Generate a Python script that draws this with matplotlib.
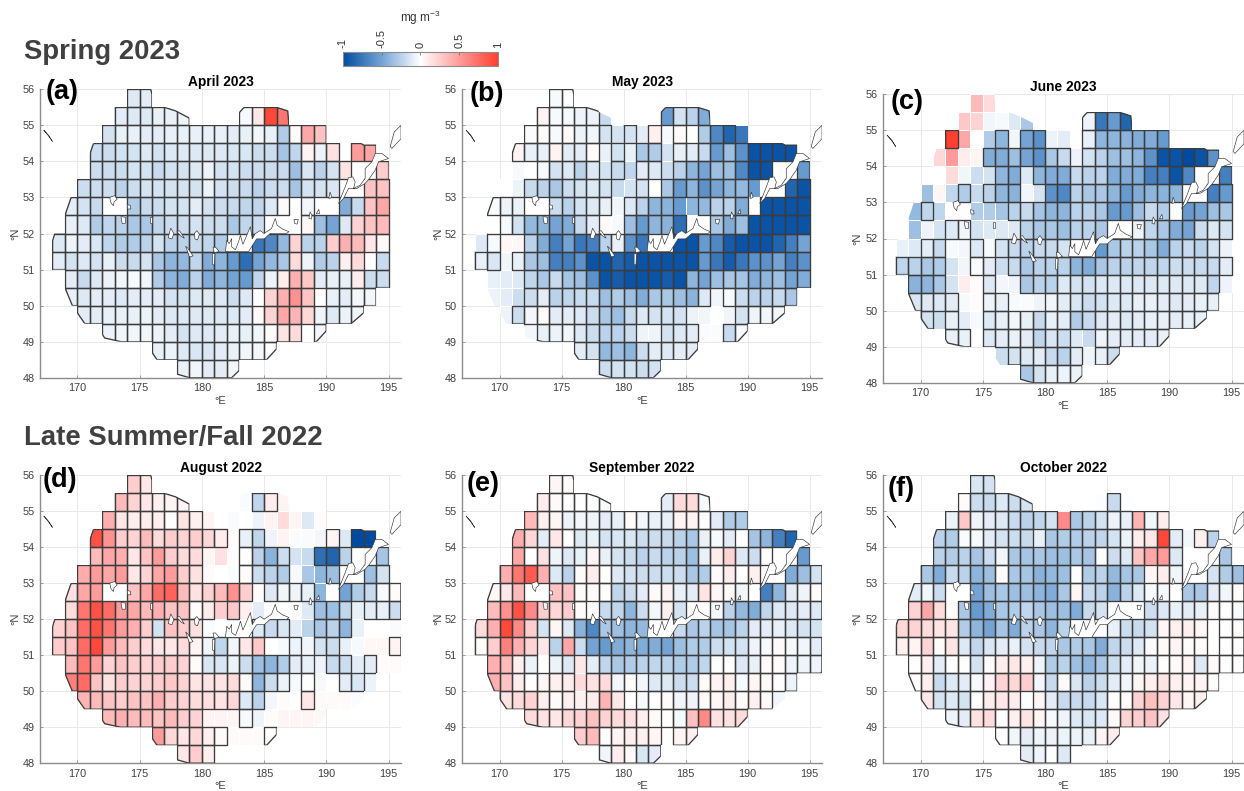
import numpy as np
import matplotlib
matplotlib.use("Agg")
import matplotlib.pyplot as plt
from matplotlib.collections import PatchCollection
from matplotlib.colors import LinearSegmentedColormap
from matplotlib.cm import ScalarMappable
from matplotlib.colors import Normalize
from matplotlib.patches import Rectangle, PathPatch
from matplotlib.path import Path

plt.rcParams["font.family"] = ["Liberation Sans", "DejaVu Sans"]
plt.rcParams["mathtext.fontset"] = "custom"
plt.rcParams["mathtext.rm"] = "Liberation Sans"
plt.rcParams["axes.unicode_minus"] = False

n = float("nan")

# rows run north to south, each row starts at its own longitude
row_lat = [55.5, 55, 54.5, 54, 53.5, 53, 52.5, 52, 51.5, 51, 50.5, 50, 49.5, 49, 48.5, 48]
row_lon = [174, 173, 172, 171, 171, 170, 169, 169, 168, 168, 169, 169, 170, 172, 176, 178]

# anomalies in hundredths of mg m-3
apr_2023 = [
    [-12, -10],
    [-10, -12, -12, -8, -8, -6, n, n, n, n, -3, 12, 95, 70],
    [-15, -8, -8, -10, -10, -8, -8, -8, -8, -8, -10, -8, -5, -8, -28, 3, 45, 30],
    [-18, -18, -15, -15, -12, -15, -12, -12, -12, -12, -12, -14, -14, -18, -18, -32, -22, 6, -7, 15, n, 50, 45],
    [-18, -18, -18, -15, -15, -20, -15, -15, -12, -7, -15, -15, -18, -18, -18, -20, -35, -14, -25, -15, 14, n, n, 25],
    [-18, -18, -18, -25, -18, -15, -15, -15, -15, -15, -7, -15, -18, -20, -25, -18, -18, -32, -15, -15, -14, n, n, 30, 30, n],
    [-10, -15, -20, n, n, -28, -20, -18, -15, -15, -10, -15, -18, -20, -22, -22, -12, 3, n, -4, n, n, -45, -20, 30, 45, n],
    [-8, -12, -28, -22, -25, -30, -30, -22, -18, -18, -15, -18, -18, -30, -22, -18, n, n, n, 4, -35, -50, -12, 22, 30, 35, n],
    [-12, -6, -10, -14, -22, -28, -28, -25, -15, -25, -25, -20, -22, -28, n, n, -75, -65, -38, 22, -25, -25, 25, 40, 35, 12, 3, n],
    [-10, -15, -12, -15, -8, -18, -20, -15, -30, -40, -38, -22, -45, -40, -55, -80, -50, -38, -30, 18, -7, -28, -25, 8, 18, n, -20, n],
    [-10, -20, -12, -7, -5, -3, -5, -28, -40, -45, -25, -45, -40, -50, -55, -22, -7, 10, 40, 28, -10, -8, -8, 10, -18, -18, n],
    [-8, -12, -10, -10, -12, -10, -10, -10, -15, -15, -12, -12, -12, -18, -12, n, 22, 40, 55, 30, n, -8, -10, -4, -4],
    [-10, -10, -8, -8, -8, -7, -10, -12, -12, -12, -12, -12, -12, -10, 3, 22, 45, 38, 20, -6, -12, -7, -5],
    [-7, -5, -5, -5, -7, -10, -15, -12, -12, -10, -8, -8, -5, 3, 14, 18, n, -4],
    [-8, -7, -12, -14, -14, -10, -8, -5, -4, 0],
    [-8, -5, -10, -10, -5],
]
may_2023 = [
    [-3, 0],
    [6, -3, -3, -6, -7, -20, n, n, n, n, -55, -15, -25, -45],
    [-2, 3, -3, 2, -7, -5, -15, -15, -15, -10, 8, -3, 2, n, -28, -65, -85, -75],
    [6, -8, -8, 6, -10, -10, 2, -8, -15, -8, -30, -28, -15, -8, -10, -20, -55, -35, -60, -95, -95, -95, -95],
    [-3, n, -3, -15, -12, -25, -12, -15, -20, -22, -10, -12, -18, -25, -40, -50, -35, -35, -65, -95, -95, n, n, -55],
    [n, -7, -20, -25, -30, -18, -15, -12, -15, -20, -15, -15, n, -30, -55, -40, -60, -50, -40, -38, -55, n, n, -85, -95, n],
    [-2, -7, -7, n, n, -18, -25, -15, -12, -8, -5, -12, -25, -40, -42, -55, -40, -38, -25, -25, -45, n, -95, -95, -95, -95, n],
    [n, -3, -15, -38, -40, -50, -45, -20, -10, 3, -3, -35, -55, -40, -42, -80, n, n, -30, -45, -35, -95, -95, -95, -95, -95, n],
    [-12, -3, 4, 4, -25, -45, -70, -50, -75, -70, -25, -8, -60, -75, n, n, -95, -95, -55, -65, -90, -95, -95, -95, -85, -70, -50, n],
    [-8, -14, -5, -8, -30, -35, -70, -70, -60, -95, -95, -85, -90, -95, -95, -95, -95, -95, -55, -75, -90, -75, -60, -60, -50, -70, -60, n],
    [-8, -10, -12, -22, -30, -20, -32, -35, -60, -95, -90, -95, -95, -95, -90, -95, -40, -50, -35, -30, -32, -45, -40, -35, -50, -45, n],
    [-7, -10, -18, -18, -10, -25, -22, -20, -20, -35, -28, -35, -45, -30, -30, -35, -42, -12, -5, -3, -18, -25, -25, -20, -30],
    [-7, -18, -4, 2, -10, -10, -12, -18, -30, -35, -20, -12, -15, -15, -15, -7, -5, n, -5, -15, -6, -5, -5],
    [-4, -8, -7, -5, -12, -18, -25, -25, -18, -6, -6, -15, -12, -10, -2, -2, -20, -3],
    [-10, -15, -38, -35, -40, -18, -10, -12, -10, -10],
    [-18, -15, -15, -18, -15],
]
jun_2023 = [
    [35, 18],
    [28, 22, -5, -3, -12, -30, n, n, n, n, -6, -75, -55, -85],
    [100, 45, n, -28, -40, -5, -50, -60, -7, -10, n, -8, -40, -40, -42, -45, -45, -55],
    [20, 50, 10, 5, -45, -45, -35, -50, -60, -30, -20, -6, -15, -25, -35, -35, -40, -60, -95, -95, -100, -95, -60],
    [n, 18, -5, -18, -15, -40, -45, -12, -40, -45, -45, -20, -25, -25, -45, -45, -45, -70, -70, -95, -65, n, n, -70],
    [-35, 5, -22, -28, -20, -25, -40, -42, -5, -15, -60, -65, -25, -30, -30, -40, -55, -45, -40, -42, -40, n, n, -70, -55, n],
    [-38, -22, -22, n, n, -28, -28, -32, -25, -20, -32, -40, -40, -25, -25, -30, -55, -55, -35, -20, -28, n, -55, -50, -35, -30, n],
    [-35, -6, -15, -12, -5, -15, -12, -12, -12, -25, -30, -30, -35, -25, -25, -30, n, n, -6, -22, -30, -45, -50, -18, -12, -15, n],
    [-8, -12, -10, -20, -3, -4, -12, -3, -15, -20, -25, -20, -20, -15, n, n, -55, -30, -25, -25, -30, -45, -25, -20, -25, -15, -7, n],
    [-22, -25, -30, -28, -15, -5, -2, -10, -18, -20, -30, -25, -25, -25, -40, -45, -30, -25, -25, -22, -22, -22, -18, -18, -20, -20, -10, n],
    [-42, -40, -30, -15, 10, 2, -12, -4, -6, -30, -25, -25, -12, -15, -15, -12, -12, -12, -12, -12, -12, -12, -12, -12, -22, -6, n],
    [-14, -12, -12, -10, -3, 2, -6, -8, -3, -2, -6, -5, -10, -14, -18, -15, -12, -12, -8, -8, -10, -12, -10, -8, -8],
    [-15, -18, -8, -10, -3, -12, -8, -5, -8, -20, -8, -10, -28, -20, -12, -10, -12, -10, -8, -8, -10, -8, -8],
    [-8, -8, n, -12, -10, -8, -10, -22, -14, -18, -12, -20, -6, -10, -10, -10, -10, -8],
    [-18, -15, -12, -10, -20, -25, -10, -6, -8, -18],
    [-30, -15, -8, -7, -7],
]
aug_2022 = [
    [25, 12],
    [35, 22, 12, 8, 6, 5, n, n, n, n, -2, -22, 10, 6],
    [40, 12, 10, 10, 8, 0, 14, 8, 6, n, -2, n, -6, 6, 18, 5, -12, 2],
    [90, 55, 25, 22, 35, 18, 25, 22, 25, 20, 10, 2, -8, -22, -6, 6, -2, -2, -4, 5, -12, -100, -100],
    [35, 45, 40, 12, 30, 50, 25, 18, 18, 5, 15, 2, 0, -25, -42, -18, -15, -20, -80, -85, -25, n, n, -32],
    [42, 50, 45, 50, 12, 22, 45, 50, 25, 15, 3, n, -2, 2, -18, -25, -28, -3, -30, -40, -35, n, n, -35, -15, n],
    [15, 45, 50, n, n, 30, 45, 75, 80, 35, 15, 22, 35, 55, 25, 2, -12, -5, -6, -8, -40, n, -50, -28, -20, -3, 2],
    [18, 70, 90, 75, 50, 45, 35, 40, 30, 30, 2, 10, 25, 28, 8, -10, n, n, n, -12, -35, -35, -22, -8, -10, -8, -18],
    [22, 30, 75, 90, 70, 50, 40, 25, -15, 30, 25, 15, -2, n, n, n, -12, -20, -14, -10, -25, -30, -25, -40, -8, n, n, -2],
    [25, 30, 75, 95, 50, 35, 25, 18, 12, 12, 18, 5, -5, -22, -5, 12, 28, n, -3, -7, -5, -15, -18, -8, -3, 4, 4, 6],
    [35, 70, 50, 22, 30, 25, 22, 25, 25, 22, 2, -14, -14, -7, -18, -35, -40, -28, -10, -8, -6, -20, -18, -10, -10, 2, 2],
    [65, 75, 30, 15, 25, 22, 22, 25, 28, 22, 14, 14, 14, 18, 3, -40, -18, -7, -3, 0, -3, n, -10, -14, -7],
    [38, 35, 30, 25, 30, 30, 40, 25, 22, 18, 16, 14, 20, -12, -25, -4, 2, n, 12, 3, 3, 3, -2],
    [35, 40, 35, 35, 30, 35, 25, 22, 6, 6, 5, -3, -6, 2, 5, 5, 5, 4],
    [50, 20, 12, 20, 8, 3, 3, 3, 3, 0],
    [12, 25, 8, n, n],
]
sep_2022 = [
    [5, 2],
    [10, 3, 0, 0, 0, -3, n, n, n, n, -10, 18, 18, -3],
    [35, 8, 5, -7, -4, -6, -10, -8, 2, -4, -8, -8, 6, 6, 0, -10, -28, -28],
    [42, 20, -10, 12, 0, -12, -8, -15, -14, -14, -18, -18, -20, -25, -30, -8, -3, -10, n, -32, -40, -70, -85],
    [45, 0, 15, -6, -12, -8, 5, -8, -15, -18, -25, -20, -25, -25, -35, -8, 10, 22, -12, -18, 0, n, n, -55],
    [40, 70, 85, 40, -12, -25, 3, 10, 0, -12, -15, -18, -18, -18, -18, -30, -28, 3, 10, 0, 8, n, n, -45, -35, -15],
    [4, 12, 35, n, n, 30, 30, 3, 2, 0, -22, -18, -10, 3, 6, -8, -10, 14, 4, 2, -5, n, -70, -40, -10, -6, 2],
    [35, 55, 90, 60, 25, 20, 25, 3, n, -20, -22, -40, -18, -4, 8, -15, n, n, -3, -25, -38, -45, -22, -12, -12, -10, -12],
    [18, 40, 95, 60, 25, -15, 5, -12, -42, -65, -30, -35, -40, -38, n, n, -20, -30, -25, -32, -32, -25, -10, -10, -8, -12, -15, -15],
    [2, 25, 65, 40, 22, 12, -25, 45, -18, -50, -55, -45, -40, -45, -45, -50, -35, -28, -28, -18, -15, -15, -6, -3, 2, -3, -5, -10],
    [40, 35, 8, -7, n, -7, -12, 12, -10, -22, -30, -28, -25, -22, -25, -28, -28, -22, 0, 0, -12, -8, 2, 2, -6, -6, -6],
    [40, 30, 10, 1, 5, 8, 10, 18, 15, 18, -4, 2, -4, -12, -12, -18, -18, 2, 6, 8, -3, 5, 3, 0, -7],
    [14, 18, 22, 8, 3, 8, 8, 10, 38, 12, n, -3, 0, 2, -5, -6, 3, 4, 10, 3, 8, 3, -5],
    [18, 15, 12, 20, 22, 32, 22, 18, 15, 8, 3, 0, -3, 32, 60, 15, 15, 18],
    [25, 35, 2, 6, 8, 8, 5, n, 6, 8],
    [-5, 10, 3, -14, -10],
]
oct_2022 = [
    [-14, -15],
    [2, -18, -20, -12, -18, -15, n, n, n, n, n, -1, -20, -1],
    [-7, 28, -6, -10, -12, -20, -25, -22, -15, 60, -30, -25, -15, -7, -8, 38, -5, 10],
    [-25, -28, -2, -3, -10, -15, -18, -20, -8, -30, -28, -28, -25, -22, -15, -7, 10, 12, 95, -10, -4, 8, -25],
    [-25, -28, -25, -32, -18, -5, -30, -32, -30, -35, -35, -30, -32, -1, -18, -12, 30, 45, 50, -12, n, n, n, -30],
    [-30, -45, -20, -25, -40, -35, 2, -30, -32, -42, -38, -35, -1, -28, -25, -38, -32, -30, 5, 10, -5, n, n, -15, -28, -35],
    [-10, -5, -18, n, n, -50, -35, -30, -35, -35, -40, -45, -30, 5, -20, -25, -42, -25, -12, -3, -3, n, -30, -30, -10, -5, 2],
    [22, 45, 18, 2, -30, -55, -45, -30, -28, -22, -30, -35, -35, -45, -20, -15, n, n, n, -18, -12, -8, -10, -8, 2, 0, -2],
    [20, 22, 18, 14, 14, -28, -40, -50, -32, -45, -25, -30, -40, -25, n, n, n, -8, -18, -20, -15, 5, 8, 8, 4, n, 1, 2],
    [8, 6, 22, 2, 14, -12, -22, -14, -10, -8, -15, -20, -22, -30, -28, -30, -45, -22, -18, -12, -2, 3, 6, 2, 2, n, 0, 1],
    [1, 8, -10, 1, 0, -15, 2, 10, 12, 8, -6, -28, -25, -35, -40, -30, -18, -10, -5, -7, 1, 3, 5, -12, 3, 0, 1],
    [1, 10, -20, -12, -10, -3, 6, 22, 20, 25, -4, -20, 3, -14, -25, -18, -10, -5, 5, 8, 14, 8, 6, 6, 2],
    [12, -15, -12, -15, 0, 10, 12, 10, n, 5, -10, -20, -20, -20, -14, 0, 2, 22, 32, 22, 12, 5, 8],
    [-6, -10, 15, 18, 0, 8, 14, 5, -3, -6, -12, -14, -12, 3, 22, 25, 30, 15],
    [0, -5, -10, -6, -7, -7, -7, -8, 6, 10],
    [-10, -6, 0, -12, n],
]

# cells without a significance outline, by row latitude
apr_plain = {}
may_plain = {55: [178], 54.5: [179, 181, 183, 189], 54: [178, 180, 183], 53.5: [171, 178, 180, 183],
             53: [171, 179, 180, 190], 52.5: [179, 184, 185], 52: [178, 179], 51.5: [168, 170, 171],
             51: [170], 50.5: [169, 170, 171], 50: [169, 170, 171, 187], 49.5: [170, 185, 186, 188],
             49: [172, 181, 182, 186, 187]}
jun_plain = {55.5: [174, 175], 55: [173, 174, 175, 176, 177, 178], 54.5: [173, 175, 177, 180, 181],
             54: [171, 172, 173, 174, 182], 53.5: [172, 173, 174, 175, 178], 53: [170, 171, 172, 174, 178, 179],
             52.5: [169, 171, 174, 175, 176, 188], 52: [169, 170, 171, 174, 175, 176, 177],
             51.5: [168, 169, 172, 173, 175, 194], 51: [172, 173, 176], 50.5: [172, 173, 174, 176, 177, 194],
             50: [173, 174, 177, 178, 179], 49.5: [171, 173, 174], 49: [182, 183], 48.5: [176, 183]}
aug_plain = {55: [183, 186], 54.5: [180, 182, 184, 185, 186, 187, 188, 189], 54: [182, 185, 186, 187, 188, 189, 191],
             53.5: [180, 181, 182, 187, 188], 53: [180, 182, 187, 188, 189], 52.5: [184, 189],
             52: [181, 183, 184, 188, 192], 51.5: [180, 187, 188, 192, 195], 51: [186, 188, 191, 192, 193, 194],
             50.5: [189, 192, 194, 195], 50: [187, 189, 193], 49.5: [185, 186, 189, 190, 191, 192],
             49: [180, 181, 182, 184, 185, 186, 187, 188, 189], 48.5: [182, 183, 184]}
sep_plain = {51.5: [195], 51: [173], 50.5: [176], 50: [176, 181], 49.5: [176, 192], 49: [182]}
oct_plain = {55: [184, 186], 54.5: [181], 54: [179, 191], 53: [188], 52: [172], 51.5: [193]}

# study region outline
region_lon = [174, 175.9, 176, 176, 177, 177.9, 179, 179, 183, 183, 183.4, 186, 186.9, 187, 190, 190, 192.8, 193, 194, 194, 195, 195, 196, 196, 195.9, 194, 194, 193, 193, 192, 190, 190, 189.2, 186, 186, 185.2, 183, 183, 182.4, 179, 178, 178, 176.4, 176, 176, 174.5, 173.5, 172.2, 172, 172, 170.6, 170, 170, 169.6, 169, 169, 168, 168, 168.2, 169, 169, 169.5, 170, 170, 171, 171, 171.3, 172, 172, 173, 173, 174, 174]
region_lat = [56, 56, 55.85, 55.5, 55.5, 55.4, 55.2, 55, 55, 55.35, 55.5, 55.5, 55.4, 55, 55, 54.5, 54.5, 54.45, 54.45, 54, 54, 53.5, 53.5, 50.55, 50.5, 50.5, 50, 50, 49.8, 49.5, 49.5, 49.3, 49, 49, 48.8, 48.5, 48.5, 48.2, 48, 48, 48.1, 48.5, 48.5, 48.7, 49, 49, 49, 49.1, 49.2, 49.5, 49.5, 49.8, 50, 50, 50.5, 51, 51, 51.8, 52, 52, 52.5, 53, 53, 53.5, 53.5, 54.2, 54.5, 54.5, 55, 55, 55.5, 55.5, 56]

# coastline pieces (lon, lat)
coast_shapes = [
    [(172.6, 53.0), (173.0, 53.05), (173.2, 52.95), (172.95, 52.88), (172.9, 52.77), (172.7, 52.85)],
    [(174.0, 52.8), (174.25, 52.78), (174.3, 52.68), (174.05, 52.68)],
    [(173.5, 52.47), (173.85, 52.45), (173.85, 52.28), (173.6, 52.28)],
    [(175.85, 52.45), (176.0, 52.45), (176.0, 52.28), (175.85, 52.28)],
    [(177.3, 51.88), (177.5, 52.15), (177.75, 52.0), (177.6, 51.85)],
    [(178.0, 52.05), (178.2, 52.08), (178.6, 51.87), (178.35, 51.92)],
    [(179.4, 52.0), (179.6, 52.08), (179.8, 51.98), (179.65, 51.82), (179.45, 51.85)],
    [(178.7, 51.65), (178.85, 51.6), (179.3, 51.38), (179.0, 51.35)],
    [(180.85, 51.44), (181.05, 51.44), (181.0, 51.12), (180.85, 51.15)],
    [(180.9, 51.62), (181.1, 51.62), (181.4, 51.5), (181.0, 51.47)],
    [(181.9, 51.5), (182.0, 51.81), (182.2, 51.72), (182.4, 51.86), (182.4, 51.63), (182.7, 51.55), (182.95, 51.77),
     (183.1, 51.95), (183.3, 51.7), (183.5, 51.86), (183.9, 52.19), (184.05, 51.85), (184.3, 52.0), (184.7, 52.08),
     (185.0, 52.0), (185.6, 52.14), (185.9, 52.42), (186.05, 52.23), (186.5, 52.12), (187.0, 52.05),
     (186.8, 52.0), (185.5, 52.0), (185.0, 51.85), (184.4, 51.85), (184.16, 51.72), (183.76, 51.5), (182.8, 51.5)],
    [(187.4, 52.39), (187.75, 52.39), (187.65, 52.26), (187.45, 52.28)],
    [(188.6, 52.42), (188.7, 52.6), (188.85, 52.5), (188.8, 52.4)],
    [(189.2, 52.55), (189.4, 52.67), (189.45, 52.55)],
    [(190.2, 52.97), (190.3, 53.15), (190.45, 53.0)],
    [(190.98, 52.83), (191.52, 53.3), (191.79, 53.55), (192.13, 53.57), (192.32, 53.43), (192.19, 53.25), (192.72, 53.34),
     (193.12, 53.53), (193.12, 53.8), (193.66, 53.99), (193.93, 54.22), (194.46, 54.22), (195.0, 54.08), (194.2, 53.99),
     (193.93, 53.76), (193.47, 53.53), (193.12, 53.39), (192.45, 53.25), (191.79, 53.25), (191.38, 52.97)],
    [(195.13, 54.41), (195.46, 54.82), (196, 55.0), (196, 54.63), (195.27, 54.36)],
    [(167.3, 54.87), (167.7, 54.7), (168.0, 54.55), (167.7, 54.72)],
]

month_titles = ["April 2023", "May 2023", "June 2023", "August 2022", "September 2022", "October 2022"]
panel_tags = ["(a)", "(b)", "(c)", "(d)", "(e)", "(f)"]
panel_data = [apr_2023, may_2023, jun_2023, aug_2022, sep_2022, oct_2022]
panel_plain = [apr_plain, may_plain, jun_plain, aug_plain, sep_plain, oct_plain]

# axes boxes in pixels: left, right, top, bottom
boxes = [(40, 401, 89.3, 377.7), (462.3, 822, 89.3, 377.7), (883.3, 1244, 94.3, 382.7),
         (40, 401, 475.3, 763.3), (462.3, 822, 475.3, 763.3), (883.3, 1244, 475.3, 763.3)]
tag_pos = [(46, 92), (470, 94), (891, 102), (43, 480), (467, 484), (888, 489)]
ylabel_x = [15, 438, 857, 15, 438, 857]

W, H = 1244, 791
fig = plt.figure(figsize=(W / 100, H / 100), dpi=100)
fig.patch.set_facecolor("white")

blue_red = LinearSegmentedColormap.from_list(
    "anom", [(0, "#004ba0"), (0.25, "#73a3d4"), (0.5, "#ffffff"), (0.75, "#ff9c9c"), (1, "#ff3f30")])

lon_edges = np.arange(168, 197)
lat_edges = np.arange(48, 56.5, 0.5)
region_path = Path(np.column_stack([region_lon, region_lat]))


def make_grid(rows):
    grid = np.full((16, 28), np.nan)
    for lat, lon0, vals in zip(row_lat, row_lon, rows):
        i = int((lat - 48) * 2)
        j = lon0 - 168
        grid[i, j:j + len(vals)] = np.array(vals, dtype=float)[:28 - j] / 100
    return grid


def px_text(x, y, s, **kw):
    return fig.text(x / W, 1 - y / H, s, **kw)


for k in range(6):
    l, r, t, b = boxes[k]
    ax = fig.add_axes([l / W, 1 - b / H, (r - l) / W, (b - t) / H])
    grid = make_grid(panel_data[k])

    clip = PathPatch(region_path, transform=ax.transData, facecolor="none", edgecolor="none")
    ax.add_patch(clip)

    mesh = ax.pcolormesh(lon_edges, lat_edges, np.ma.masked_invalid(grid), cmap=blue_red, vmin=-1, vmax=1,
                         edgecolors="white", linewidth=0.5, zorder=2)
    mesh.set_clip_path(clip)

    # outline the significant cells
    cells = []
    plain = panel_plain[k]
    for i in range(16):
        lat = 48 + i * 0.5
        for j in range(28):
            lon = 168 + j
            if np.isnan(grid[i, j]) or lon in plain.get(lat, []):
                continue
            cells.append(Rectangle((lon, lat), 1, 0.5))
    boxes_drawn = PatchCollection(cells, facecolor="none", edgecolor="#3c3c3c", linewidth=0.95, zorder=3)
    ax.add_collection(boxes_drawn)
    boxes_drawn.set_clip_path(clip)

    edge_line, = ax.plot(region_lon, region_lat, color="#3c3c3c", lw=0.95, zorder=3)
    cell_paths = [c.get_path().transformed(c.get_patch_transform()) for c in cells]
    edge_line.set_clip_path(Path.make_compound_path(*cell_paths), ax.transData)

    for shape in coast_shapes:
        xs = [p[0] for p in shape]
        ys = [p[1] for p in shape]
        ax.fill(xs, ys, facecolor="white", edgecolor="#333333", linewidth=0.45, zorder=4)

    ax.set_xlim(167, 196)
    ax.set_ylim(48, 56)
    ax.set_xticks(np.arange(170, 196, 5))
    ax.set_yticks(np.arange(48, 57))
    ax.grid(True, color="#e9e9e9", lw=0.7)
    ax.set_axisbelow(True)
    ax.spines["top"].set_visible(False)
    ax.spines["right"].set_visible(False)
    ax.spines["left"].set_color("#8c8c8c")
    ax.spines["bottom"].set_color("#8c8c8c")
    ax.spines["left"].set_linewidth(1.0)
    ax.spines["bottom"].set_linewidth(1.0)
    ax.tick_params(direction="in", length=2.5, width=0.6, color="#8c8c8c", labelcolor="#404040", labelsize=7.8, pad=4)

    center = (l + r) / 2
    px_text(center, t - 7.5, month_titles[k], fontsize=9.9, fontweight="bold", ha="center", va="center")
    px_text(center, b + 23, "°E", fontsize=8, color="#404040", ha="center", va="center")
    px_text(ylabel_x[k], (t + b) / 2, "°N", fontsize=8, color="#404040", rotation=90, ha="center", va="center")
    px_text(tag_pos[k][0], tag_pos[k][1], panel_tags[k], fontsize=19.5, fontweight="bold", ha="left", va="center")

px_text(24, 52, "Spring 2023", fontsize=19.8, fontweight="bold", color="#404040", ha="left", va="center")
px_text(24, 438, "Late Summer/Fall 2022", fontsize=19.8, fontweight="bold", color="#404040", ha="left", va="center")

# shared colour bar
cax = fig.add_axes([342.7 / W, 1 - 66 / H, (498 - 342.7) / W, 14 / H])
bar = fig.colorbar(ScalarMappable(Normalize(-1, 1), blue_red), cax=cax, orientation="horizontal")
bar.set_ticks([-1, -0.5, 0, 0.5, 1])
bar.set_ticklabels(["-1", "-0.5", "0", "0.5", "1"])
cax.xaxis.set_ticks_position("top")
cax.tick_params(direction="in", length=2.5, width=0.6, color="#707070", labelcolor="#333333", labelsize=8, pad=3,
                labelrotation=90)
bar.outline.set_edgecolor("#8c8c8c")
bar.outline.set_linewidth(0.8)
px_text(420, 18, r"mg m$^{\mathrm{-3}}$", fontsize=8.5, color="#333333", ha="center", va="center")

fig.savefig("out.png", dpi=100)
